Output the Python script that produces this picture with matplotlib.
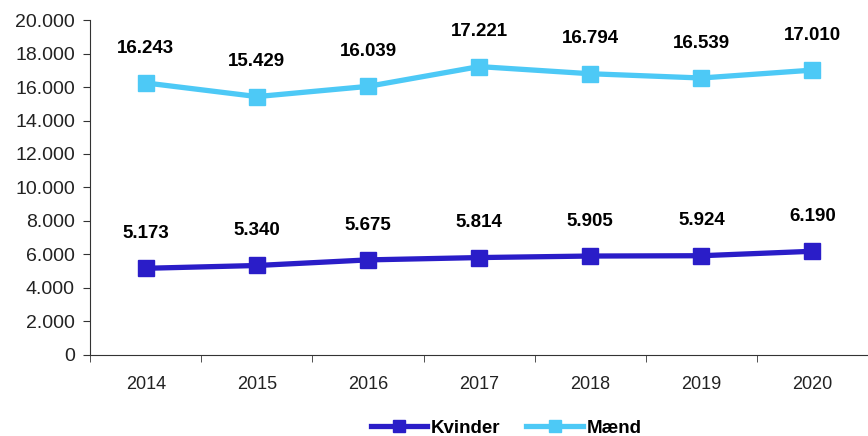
import matplotlib.pyplot as plt
from matplotlib.ticker import FuncFormatter

plt.rcParams['font.family'] = ['Liberation Sans', 'DejaVu Sans']

years = ['2014', '2015', '2016', '2017', '2018', '2019', '2020']
kvinder = [5173, 5340, 5675, 5814, 5905, 5924, 6190]
maend = [16243, 15429, 16039, 17221, 16794, 16539, 17010]

col_k = '#2A1DC8'
col_m = '#4DC9F6'


def dk(v, pos=None):
    return f'{int(v):,}'.replace(',', '.')


fig = plt.figure(figsize=(8.68, 4.36), dpi=100)
ax = fig.add_axes([0.104, 0.186, 0.896, 0.768])

x = list(range(len(years)))
ax.plot(x, kvinder, color=col_k, lw=3.8, marker='s', ms=11, label='Kvinder')
ax.plot(x, maend, color=col_m, lw=3.8, marker='s', ms=11, label='Mænd')

for xi, v in zip(x, kvinder):
    ax.annotate(dk(v), (xi, v), xytext=(0, 19), textcoords='offset points',
                ha='center', va='bottom', fontsize=13.5, fontweight='bold')
for xi, v in zip(x, maend):
    ax.annotate(dk(v), (xi, v), xytext=(0, 19), textcoords='offset points',
                ha='center', va='bottom', fontsize=13.5, fontweight='bold')

ax.set_ylim(0, 20000)
ax.set_yticks(range(0, 20001, 2000))
ax.yaxis.set_major_formatter(FuncFormatter(dk))
ax.set_xlim(-0.5, len(years) - 0.5)
ax.set_xticks(x)
ax.set_xticklabels(years)
ax.set_xticks([i - 0.5 for i in range(len(years) + 1)], minor=True)
ax.tick_params(axis='x', which='major', length=0, pad=15, labelsize=13, colors='#222222')
ax.tick_params(axis='x', which='minor', length=5, direction='out', color='#333333')
ax.tick_params(axis='y', length=5, direction='out', labelsize=14, pad=6,
               color='#333333', labelcolor='#222222')
for s in ['top', 'right']:
    ax.spines[s].set_visible(False)
for s in ['left', 'bottom']:
    ax.spines[s].set_color('#333333')

leg = fig.legend(loc='lower center', bbox_to_anchor=(0.583, -0.04), ncol=2,
                 frameon=False, handlelength=3.0, handletextpad=0.2,
                 columnspacing=1.4, markerscale=0.8,
                 prop={'weight': 'bold', 'size': 13.5})

fig.savefig('out.png')
